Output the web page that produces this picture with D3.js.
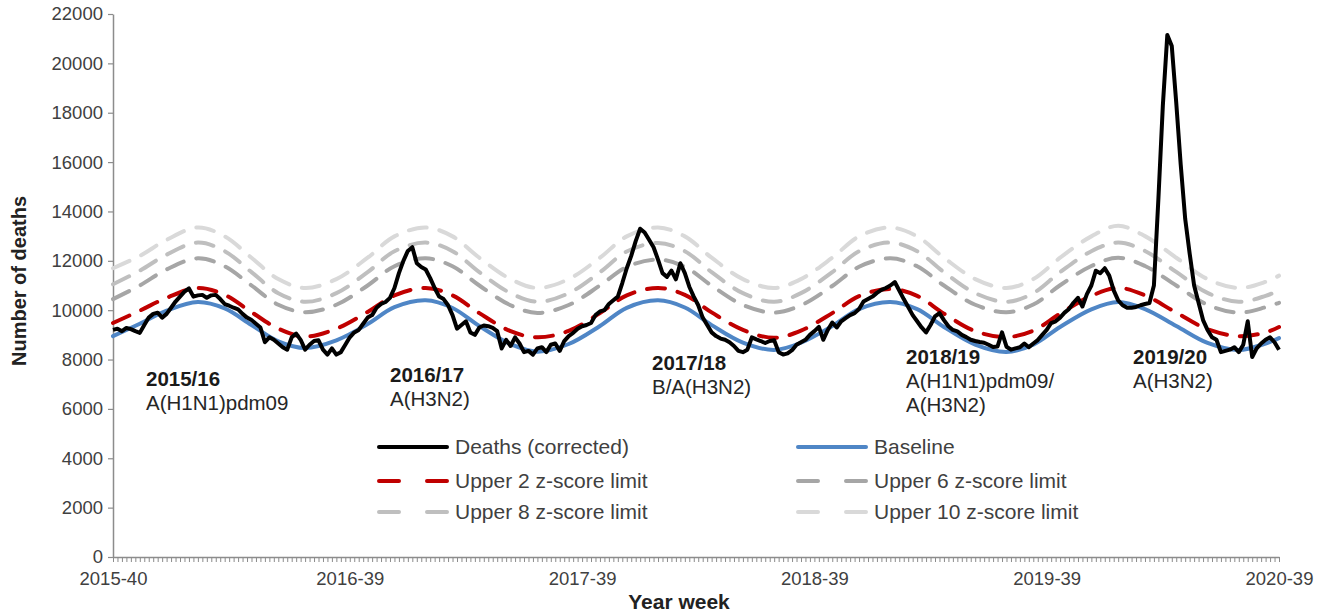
<!DOCTYPE html>
<html>
<head>
<meta charset="utf-8">
<script src="https://cdn.jsdelivr.net/npm/d3@7"></script>
<style>
  html, body { margin: 0; padding: 0; background: #fff; }
  svg { display: block; font-family: "Liberation Sans", Arial, sans-serif; }
</style>
</head>
<body>
<svg id="chart" width="1331" height="612"></svg>
<script>
// x = week index from 2015-40 (0) to 2020-39 (261)
const weekLabels = ["2015-40", "2016-39", "2017-39", "2018-39", "2019-39", "2020-39"];
const labelWeeks = [0, 53, 105, 157, 209, 261];
const yTicks = [0, 2000, 4000, 6000, 8000, 10000, 12000, 14000, 16000, 18000, 20000, 22000];

// weekly deaths (corrected), one value per week
const deaths = [
  9200, 9250, 9150, 9280, 9230, 9150, 9080, 9400, 9700, 9850,
  9900, 9700, 9850, 10100, 10350, 10550, 10750, 10880, 10550, 10600,
  10620, 10500, 10600, 10620, 10450, 10250, 10180, 10100, 10030, 9850,
  9700, 9600, 9450, 9300, 8700, 8900, 8800, 8650, 8500, 8400,
  8900, 9050, 8800, 8400, 8600, 8750, 8780, 8400, 8200, 8450,
  8200, 8300, 8600, 8900, 9100, 9200, 9450, 9700, 9800, 10100,
  10250, 10330, 10500, 10900, 11500, 12000, 12400, 12550, 11900, 11750,
  11650, 11300, 10900, 10550, 10450, 10200, 9800, 9250, 9400, 9550,
  9100, 9000, 9300, 9380, 9350, 9280, 9150, 8450, 8800, 8550,
  8900, 8650, 8300, 8350, 8200, 8450, 8500, 8300, 8600, 8650,
  8350, 8750, 8950, 9080, 9250, 9350, 9400, 9480, 9800, 9950,
  10000, 10250, 10400, 10550, 11100, 11700, 12200, 12800, 13300, 13150,
  12850, 12550, 12050, 11500, 11350, 11600, 11250, 11900, 11500, 10950,
  10550, 10200, 9700, 9400, 9100, 8950, 8850, 8800, 8700, 8550,
  8350, 8300, 8400, 8900, 8820, 8750, 8670, 8750, 8780, 8300,
  8200, 8250, 8380, 8600, 8700, 8800, 9000, 9150, 9320, 8800,
  9200, 9500, 9300, 9550, 9680, 9800, 9880, 10050, 10350, 10450,
  10550, 10700, 10820, 10900, 11000, 11140, 10800, 10450, 10130, 9800,
  9550, 9300, 9100, 9400, 9750, 9880, 9600, 9350, 9200, 9140,
  9000, 8910, 8800, 8750, 8710, 8680, 8600, 8510, 8530, 9100,
  8520, 8400, 8450, 8500, 8650, 8500, 8650, 8790, 9000, 9200,
  9480, 9550, 9700, 9900, 10050, 10300, 10500, 10150, 10650, 11000,
  11600, 11500, 11700, 11400, 10800, 10400, 10200, 10100, 10100, 10130,
  10200, 10250, 10290, 11000, 14500, 18300, 21150, 20700, 18400, 15900,
  13700, 12300, 11000, 10300, 9600, 9200, 8900, 8800, 8300, 8350,
  8400, 8500, 8300, 8600, 9550, 8100, 8450, 8650, 8800, 8900,
  8700, 8400
];

// smooth series read at these weeks
const curveWeeks = [0, 6, 12, 19, 25, 31, 37, 43, 50, 57, 63, 70, 76, 82, 89, 95,
  102, 109, 115, 122, 128, 134, 141, 148, 154, 161, 167, 174, 180, 186, 193, 200,
  206, 212, 219, 225, 231, 238, 245, 252, 258, 261];

const baseline = [8950, 9450, 9980, 10330, 10070, 9400, 8740, 8470,
  8780, 9435, 10120, 10400, 10090, 9360, 8625, 8320,
  8630, 9360, 10095, 10400, 10110, 9395, 8685, 8390,
  8680, 9360, 10045, 10330, 10040, 9320, 8606, 8310,
  8606, 9320, 10034, 10330, 10046, 9360, 8674, 8390,
  8650, 8870];

const upper2 = [9480, 9980, 10500, 10900, 10620, 9920, 9250, 8930,
  9250, 9930, 10600, 10900, 10600, 9880, 9150, 8900,
  9160, 9880, 10600, 10900, 10620, 9910, 9200, 8880,
  9170, 9880, 10570, 10860, 10580, 9860, 9150, 8910,
  9170, 9860, 10580, 10900, 10600, 9900, 9230, 8950,
  9100, 9320];

const upper6 = [10450, 11000, 11650, 12100, 11780, 11000, 10220, 9920,
  10220, 11000, 11780, 12100, 11780, 11000, 10200, 9890,
  10210, 11000, 11750, 12050, 11760, 10990, 10210, 9900,
  10200, 10980, 11760, 12100, 11780, 11000, 10220, 9920,
  10230, 11010, 11790, 12120, 11790, 11000, 10220, 9900,
  10120, 10300];

const upper8 = [11050, 11600, 12250, 12740, 12390, 11540, 10690, 10340,
  10690, 11540, 12390, 12740, 12390, 11540, 10690, 10340,
  10690, 11540, 12380, 12720, 12390, 11540, 10690, 10340,
  10690, 11540, 12390, 12740, 12390, 11540, 10690, 10340,
  10690, 11540, 12390, 12740, 12400, 11550, 10700, 10340,
  10580, 10800];

const upper10 = [11700, 12200, 12850, 13350, 12990, 12125, 11260, 10900,
  11260, 12125, 12990, 13350, 12990, 12125, 11260, 10900,
  11260, 12125, 12990, 13350, 12990, 12125, 11260, 10900,
  11260, 12125, 12990, 13350, 12990, 12125, 11260, 10900,
  11260, 12125, 12990, 13420, 13000, 12125, 11260, 10900,
  11150, 11400];

const seasons = ["2015/16", "2016/17", "2017/18", "2018/19", "2019/20"];
const subtypes = [["A(H1N1)pdm09"], ["A(H3N2)"], ["B/A(H3N2)"], ["A(H1N1)pdm09/", "A(H3N2)"], ["A(H3N2)"]];

const svg = d3.select('#chart');
const axisColor = '#8c8c8c';
const textColor = '#404040';

const x = d3.scaleLinear().domain([0, 261]).range([113, 1279]);
const y = d3.scaleLinear().domain([0, 22000]).range([557, 14]);

// y axis
const gy = svg.append('g')
  .attr('transform', 'translate(113,0)')
  .call(d3.axisLeft(y).tickValues(yTicks).tickSize(5).tickSizeOuter(0).tickPadding(5).tickFormat(d3.format('d')));
gy.select('.domain').attr('stroke', axisColor).attr('stroke-width', 1.5);
gy.selectAll('.tick line').attr('stroke', axisColor).attr('stroke-width', 1.2);
gy.selectAll('.tick text').attr('fill', textColor).style('font-size', '18.5px');

// x axis: one tick per week
const gx = svg.append('g')
  .attr('transform', 'translate(0,557)')
  .call(d3.axisBottom(x).tickValues(d3.range(262)).tickSize(5).tickSizeOuter(0).tickFormat(''));
gx.select('.domain').attr('stroke', axisColor).attr('stroke-width', 1.5);
gx.selectAll('.tick line').attr('stroke', axisColor).attr('stroke-width', 1);

const gxl = svg.append('g')
  .attr('transform', 'translate(0,557)')
  .call(d3.axisBottom(x).tickValues(labelWeeks).tickSize(0).tickPadding(15)
    .tickFormat((d, i) => weekLabels[i]));
gxl.select('.domain').remove();
gxl.selectAll('.tick text').attr('fill', textColor).style('font-size', '18.5px');

// axis titles
svg.append('text')
  .attr('transform', 'translate(26,281) rotate(-90)')
  .attr('text-anchor', 'middle')
  .attr('font-weight', 'bold')
  .attr('fill', '#222')
  .style('font-size', '20px')
  .text('Number of deaths');

svg.append('text')
  .attr('x', 679).attr('y', 609)
  .attr('text-anchor', 'middle')
  .attr('font-weight', 'bold')
  .attr('fill', '#222')
  .style('font-size', '21px')
  .text('Year week');

// lines
const smooth = d3.line()
  .x((d, i) => x(curveWeeks[i]))
  .y(d => y(d))
  .curve(d3.curveCatmullRom);

const series = [
  { name: 'Upper 10 z-score limit', values: upper10, color: '#d9d9d9', dash: '18,13', width: 4 },
  { name: 'Upper 8 z-score limit', values: upper8, color: '#bfbfbf', dash: '18,13', width: 4 },
  { name: 'Upper 6 z-score limit', values: upper6, color: '#a6a6a6', dash: '18,13', width: 4 },
  { name: 'Upper 2 z-score limit', values: upper2, color: '#c00000', dash: '18,13', width: 4 },
  { name: 'Baseline', values: baseline, color: '#4f86c6', dash: null, width: 4 }
];

series.forEach(s => {
  svg.append('path')
    .datum(s.values)
    .attr('d', smooth)
    .attr('fill', 'none')
    .attr('stroke', s.color)
    .attr('stroke-width', s.width)
    .attr('stroke-linecap', 'round')
    .attr('stroke-dasharray', s.dash);
});

const deathLine = d3.line()
  .x((d, i) => x(i))
  .y(d => y(d));

svg.append('path')
  .datum(deaths)
  .attr('d', deathLine)
  .attr('fill', 'none')
  .attr('stroke', '#000')
  .attr('stroke-width', 4)
  .attr('stroke-linejoin', 'round');

// season annotations
const notePos = [[146, 386], [390, 382], [652, 370], [906, 364], [1133, 364]];
seasons.forEach((s, i) => {
  const t = svg.append('text')
    .attr('x', notePos[i][0]).attr('y', notePos[i][1])
    .style('font-size', '20.5px');
  t.append('tspan').attr('font-weight', 'bold').attr('fill', '#1a1a1a').text(s);
  subtypes[i].forEach(line => {
    t.append('tspan').attr('x', notePos[i][0]).attr('dy', 24).attr('fill', '#262626').text(line);
  });
});

// legend
const legendItems = [
  { name: 'Deaths (corrected)', color: '#000', dash: null },
  { name: 'Baseline', color: '#4f86c6', dash: null },
  { name: 'Upper 2 z-score limit', color: '#c00000', dash: '20,28' },
  { name: 'Upper 6 z-score limit', color: '#a6a6a6', dash: '20,28' },
  { name: 'Upper 8 z-score limit', color: '#bfbfbf', dash: '20,28' },
  { name: 'Upper 10 z-score limit', color: '#d9d9d9', dash: '20,28' }
];
const legCols = [379, 798];
const legRows = [447, 481, 512];
legendItems.forEach((d, i) => {
  const lx = legCols[i % 2], ly = legRows[Math.floor(i / 2)];
  svg.append('line')
    .attr('x1', lx).attr('x2', lx + 68).attr('y1', ly).attr('y2', ly)
    .attr('stroke', d.color).attr('stroke-width', 4)
    .attr('stroke-linecap', 'round')
    .attr('stroke-dasharray', d.dash);
  svg.append('text')
    .attr('x', lx + 76).attr('y', ly).attr('dy', '0.35em')
    .attr('fill', textColor)
    .style('font-size', '21px')
    .text(d.name);
});
</script>
</body>
</html>
